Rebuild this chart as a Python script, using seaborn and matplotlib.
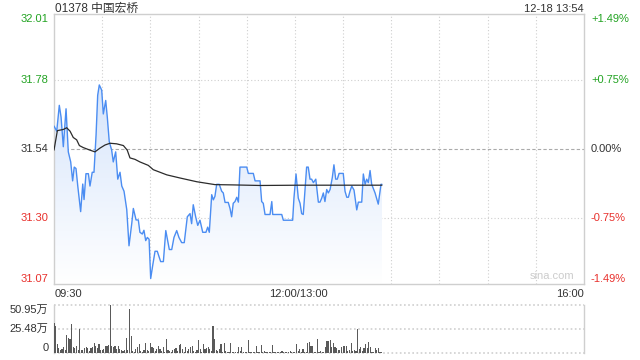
import numpy as np
import matplotlib
matplotlib.use("Agg")
import matplotlib.pyplot as plt
import seaborn as sns
import pandas as pd

# ---------------- data ----------------
title = "01378 中国宏桥"
stamp = "12-18 13:54"
prev_close = 31.54
price_ticks = [31.07, 31.30, 31.54, 31.78, 32.01]
price_labels = ["31.07", "31.30", "31.54", "31.78", "32.01"]
pct_labels = ["-1.49%", "-0.75%", "0.00%", "+0.75%", "+1.49%"]
time_labels = ["09:30", "12:00/13:00", "16:00"]
vol_ticks = [0, 25.48, 50.95]
vol_labels = ["0", "25.48万", "50.95万"]

# minutes of trading since 09:30 (150 = 12:00/13:00, 330 = 16:00)
price_min = [0, 1.7, 3.3, 4.4, 5.8, 7.5, 8.9, 10.4, 11.6, 12.6, 13.7, 14.8, 16.6, 17.9,
             18.7, 19.9, 21.4, 22.4, 23.8, 24.9, 26.2, 27.2, 28.2, 29.7, 30.7, 32.2, 33.2,
             34.4, 35.9, 36.9, 38.4, 39.7, 41.1, 42.2, 43.6, 45.3, 46.7, 48.4, 49.4, 51.1,
             52.5, 53.5, 55.0, 56.0, 57.1, 58.1, 59.2, 60.2, 61.5, 62.9, 64.3, 66.4, 68.1,
             69.6, 70.8, 71.8, 73.3, 74.7, 76.4, 77.8, 79.5, 81.1, 83.0, 84.7, 85.7, 86.7,
             88.2, 89.5, 90.9, 92.6, 94.6, 95.7, 96.7, 98.2, 99.2, 100.2, 101.3, 102.9,
             104.4, 105.4, 106.5, 108.5, 109.6, 110.6, 111.6, 112.7, 113.8, 114.8, 115.8,
             120.0, 121.0, 124.1, 125.2, 128.3, 129.3, 130.3, 131.4, 134.5, 135.6, 136.2,
             141.8, 142.8, 148.6, 149.4, 150.7, 152.1, 153.2, 154.2, 155.2, 157.3, 158.3,
             159.4, 160.4, 161.5, 163.0, 164.6, 165.6, 166.7, 167.7, 168.7, 169.8, 170.8,
             171.9, 173.3, 174.3, 175.4, 176.4, 177.5, 180.1, 181.2, 182.3, 183.3, 184.3,
             185.4, 186.8, 188.5, 189.5, 191.6, 192.6, 193.7, 194.7, 195.7, 196.8, 197.8,
             199.9, 201.9, 203.6, 204.2]
price = [31.620, 31.602, 31.692, 31.651, 31.548, 31.680, 31.530, 31.495, 31.429, 31.477,
         31.472, 31.411, 31.322, 31.418, 31.364, 31.454, 31.454, 31.411, 31.459, 31.459,
         31.590, 31.727, 31.763, 31.745, 31.662, 31.709, 31.650, 31.566, 31.536, 31.495,
         31.530, 31.435, 31.459, 31.411, 31.393, 31.329, 31.203, 31.280, 31.333, 31.293,
         31.293, 31.250, 31.244, 31.257, 31.221, 31.232, 31.226, 31.089, 31.136, 31.184,
         31.184, 31.148, 31.148, 31.256, 31.220, 31.190, 31.190, 31.232, 31.256, 31.232,
         31.214, 31.214, 31.304, 31.315, 31.280, 31.346, 31.304, 31.274, 31.292, 31.250,
         31.250, 31.268, 31.250, 31.381, 31.363, 31.375, 31.417, 31.417, 31.393, 31.387,
         31.354, 31.354, 31.333, 31.304, 31.351, 31.357, 31.372, 31.355, 31.477, 31.477,
         31.455, 31.455, 31.429, 31.429, 31.357, 31.351, 31.312, 31.312, 31.357, 31.312,
         31.312, 31.292, 31.292, 31.369, 31.453, 31.369, 31.351, 31.315, 31.312, 31.477,
         31.477, 31.435, 31.435, 31.423, 31.435, 31.355, 31.355, 31.369, 31.387, 31.357,
         31.399, 31.387, 31.399, 31.441, 31.485, 31.435, 31.435, 31.455, 31.455, 31.393,
         31.372, 31.372, 31.393, 31.411, 31.397, 31.328, 31.355, 31.355, 31.453, 31.417,
         31.435, 31.423, 31.465, 31.417, 31.387, 31.348, 31.417, 31.417]

avg_min = [0, 2.1, 5.8, 7.9, 10.0, 12.0, 14.1, 15.8, 18.2, 22.4, 25.5, 28.6, 31.8, 34.9,
           39.0, 43.2, 45.6, 47.3, 50.4, 53.5, 58.7, 61.8, 70.2, 78.5, 88.9, 100.2, 111.5,
           128.3, 153.2, 204.2]
avg_price = [31.536, 31.604, 31.608, 31.614, 31.602, 31.580, 31.572, 31.552, 31.545,
             31.536, 31.530, 31.543, 31.554, 31.560, 31.558, 31.552, 31.536, 31.509,
             31.504, 31.495, 31.483, 31.468, 31.450, 31.439, 31.426, 31.416, 31.415,
             31.413, 31.414, 31.414]

# volume per minute, in 万 shares
volume = [31.9, 29.1, 9.4, 4.9, 3.0, 4.2, 6.6, 3.5, 18.7, 16.3, 14.6, 31.2, 5.9, 4.9, 7.6,
          3.0, 25.0, 3.5, 3.5, 4.9, 5.9, 4.9, 2.4, 4.9, 5.9, 10.4, 7.6, 4.9, 9.4, 3.5, 3.0,
          4.2, 7.6, 7.6, 8.3, 50.95, 7.6, 5.9, 6.9, 4.2, 7.6, 4.2, 3.5, 2.4, 3.0, 16.3, 3.5,
          46.8, 18.0, 2.4, 1.4, 4.2, 5.9, 9.4, 2.4, 1.4, 3.0, 10.4, 3.5, 2.4, 10.4, 5.9,
          4.9, 2.4, 4.2, 7.6, 4.2, 2.4, 5.9, 1.4, 15.2, 3.5, 2.4, 1.4, 3.5, 4.2, 4.9, 2.4,
          8.3, 9.4, 4.2, 1.4, 5.9, 2.4, 4.2, 5.9, 7.6, 2.4, 1.4, 3.5, 13.5, 4.2, 1.4, 9.4,
          4.2, 4.9, 5.9, 4.2, 2.4, 29.1, 15.2, 3.5, 2.4, 4.2, 9.4, 1.4, 10.4, 2.4, 1.4,
          0.7, 10.4, 0.7, 1.4, 1.4, 1.4, 5.9, 2.4, 5.9, 1.4, 1.4, 1.4, 13.5, 1.4, 1.4, 1.4,
          1.4, 6.9, 0.7, 1.4, 8.3, 1.4, 2.4, 1.4, 1.4, 1.4, 1.4, 8.3, 1.4, 1.4, 1.4, 1.4,
          0.7, 2.4, 1.4, 1.4, 1.4, 1.4, 2.4, 1.4, 1.4, 1.4, 9.4, 2.4, 4.2, 1.4, 4.2, 1.4,
          1.4, 10.4, 11.8, 7.6, 7.6, 1.4, 1.4, 14.6, 1.4, 2.4, 1.4, 1.4, 5.9, 12.8, 12.8,
          13.9, 5.9, 11.1, 5.9, 4.9, 3.5, 3.5, 5.9, 6.9, 7.6, 7.6, 2.4, 3.5, 11.1, 2.4,
          3.5, 2.4, 25.6, 4.2, 5.9, 2.4, 4.9, 9.4, 4.9, 11.8, 5.9, 1.4, 1.4, 4.9, 3.5, 4.9,
          0.7, 0.7]
vol_min = list(range(len(volume)))

# ---------------- style ----------------
sns.set_theme(style="white")
plt.rcParams["font.family"] = ["Liberation Sans", "Noto Sans CJK SC", "DejaVu Sans"]

GREEN = "#22a322"
RED = "#e8302c"
BLUE = "#4b8df2"
GRID = "#cfcfcf"
TXT = "#333333"

W, H = 640, 360
fig = plt.figure(figsize=(6.4, 3.6), dpi=100)
fig.patch.set_facecolor("white")
ax = fig.add_axes([54 / W, 1 - 284 / H, 530 / W, 270 / H])
axv = fig.add_axes([54 / W, 1 - 353 / H, 530 / W, 48 / H])

ymin, ymax = price_ticks[0], price_ticks[-1]
ax.set_xlim(0, 330)
ax.set_ylim(ymin, ymax)

# gradient fill under the price line
pdf = pd.DataFrame({"min": price_min, "price": price})
grad = np.linspace(0, 1, 256).reshape(-1, 1)
c_top = np.array([0.78, 0.86, 0.98])
c_bot = np.array([1.0, 1.0, 1.0])
img = c_bot + (c_top - c_bot) * grad
img = img[:, None, :].repeat(2, axis=1)
im = ax.imshow(img, extent=[0, 330, ymin, ymax], origin="lower", aspect="auto", zorder=1)
poly_x = [price_min[0]] + price_min + [price_min[-1]]
poly_y = [ymin] + price + [ymin]
poly = plt.Polygon(np.column_stack([poly_x, poly_y]), closed=True, facecolor="none",
                   edgecolor="none")
ax.add_patch(poly)
im.set_clip_path(poly)

# grid
for t in range(30, 330, 30):
    ax.axvline(t, color=GRID, lw=0.8, ls=(0, (1, 2)), zorder=0.5)
for v in [price_ticks[1], price_ticks[3]]:
    ax.axhline(v, color=GRID, lw=0.8, ls=(0, (1, 2)), zorder=0.5)
ax.axhline(prev_close, color="#aaaaaa", lw=0.8, ls=(0, (3, 2)), zorder=0.5)

sns.lineplot(data=pdf, x="min", y="price", ax=ax, color=BLUE, lw=1.0, zorder=3,
             estimator=None, sort=False)
adf = pd.DataFrame({"min": avg_min, "price": avg_price})
sns.lineplot(data=adf, x="min", y="price", ax=ax, color="#2b2b2b", lw=0.9, zorder=4,
             estimator=None, sort=False)

ax.set_xlabel("")
ax.set_ylabel("")
ax.set_xticks([])
ax.set_yticks(price_ticks)
ax.set_yticklabels(price_labels)
ax.tick_params(axis="y", length=0, pad=4, labelsize=8)
lab_cols = [RED, RED, TXT, GREEN, GREEN]
for i, lab in enumerate(ax.get_yticklabels()):
    lab.set_color(lab_cols[i])
    lab.set_va("bottom" if i == 0 else ("top" if i == len(price_ticks) - 1 else "center"))
for s in ax.spines.values():
    s.set_color(GRID)
    s.set_linewidth(1)

ax2 = ax.twinx()
ax2.set_ylim(ymin, ymax)
ax2.set_yticks(price_ticks)
ax2.set_yticklabels(pct_labels)
ax2.tick_params(axis="y", length=0, pad=5, labelsize=8)
for i, lab in enumerate(ax2.get_yticklabels()):
    lab.set_color(lab_cols[i])
    lab.set_va("bottom" if i == 0 else ("top" if i == len(price_ticks) - 1 else "center"))
for s in ax2.spines.values():
    s.set_visible(False)

ax.text(0.981, 0.012, "sina.com", transform=ax.transAxes, ha="right", va="bottom",
        fontsize=8, color="#cccccc", zorder=5)

# volume panel
axv.bar(vol_min, volume, width=0.7, color="#5a5a5a", linewidth=0, zorder=3)
axv.set_xlim(0, 330)
axv.set_ylim(0, vol_ticks[-1])
for v in vol_ticks:
    axv.axhline(v, color=GRID, lw=1.2, ls=(0, (1, 1.5)), zorder=1, clip_on=False)
axv.set_xticks([])
axv.set_yticks(vol_ticks)
axv.set_yticklabels(vol_labels)
axv.tick_params(axis="y", length=0, pad=4, labelsize=8, colors=TXT)
for i, lab in enumerate(axv.get_yticklabels()):
    lab.set_va("bottom" if i == 0 else ("top" if i == len(vol_ticks) - 1 else "center"))
for k in ["top", "bottom"]:
    axv.spines[k].set_visible(False)
for k in ["left", "right"]:
    axv.spines[k].set_color(GRID)
    axv.spines[k].set_linewidth(1)

# texts
fig.text(55 / W, 1 - 9 / H, title, ha="left", va="center", fontsize=8.5, color=TXT)
fig.text(584 / W, 1 - 9 / H, stamp, ha="right", va="center", fontsize=8, color=TXT)
fig.text(55 / W, 1 - 294 / H, time_labels[0], ha="left", va="center", fontsize=8, color=TXT)
fig.text(298 / W, 1 - 294 / H, time_labels[1], ha="center", va="center", fontsize=8,
         color=TXT)
fig.text(584 / W, 1 - 294 / H, time_labels[2], ha="right", va="center", fontsize=8,
         color=TXT)

fig.savefig("out.png", dpi=100, facecolor="white")
